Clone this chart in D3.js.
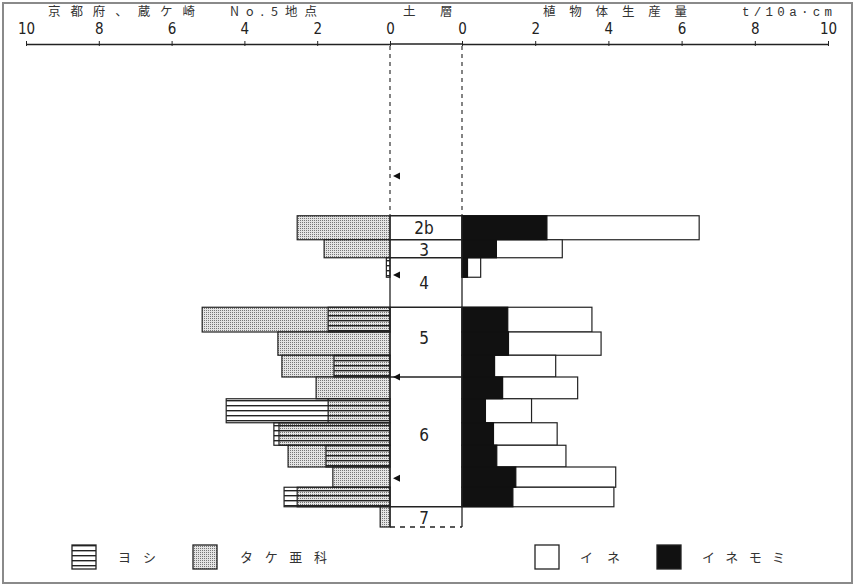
<!DOCTYPE html>
<html>
<head>
<meta charset="utf-8">
<script src="https://cdn.jsdelivr.net/npm/d3@7"></script>
<style>
  html, body { margin: 0; padding: 0; background: #fff; }
  svg { display: block; }
</style>
</head>
<body>
<svg id="chart" width="855" height="587"></svg>
<script>
// Depth slices (cm below the reference surface)
const rowTop    = [22.9, 26.1, 28.5, 35.1, 38.4, 41.5, 44.4, 47.3, 50.5, 53.5, 56.4, 59.1, 61.7];
const rowBottom = [26.1, 28.5, 31.1, 38.4, 41.5, 44.4, 47.3, 50.5, 53.5, 56.4, 59.1, 61.7, 64.4];

// Plant-body production, t/10a·cm
const yoshi   = [0, 0, 0.10, 1.70, 0, 1.54, 0, 4.50, 3.19, 1.76, 0, 2.91, 0];     // ヨシ
const takeAka = [2.55, 1.81, 0, 5.16, 3.08, 2.97, 2.03, 1.70, 3.05, 2.80, 1.57, 2.55, 0.27]; // タケ亜科
const ine     = [6.48, 2.74, 0.51, 3.55, 3.80, 2.56, 3.16, 1.90, 2.60, 2.84, 4.20, 4.15, 0]; // イネ
const ineMomi = [2.32, 0.94, 0.15, 1.25, 1.27, 0.89, 1.11, 0.64, 0.86, 0.95, 1.47, 1.39, 0]; // イネモミ

// Soil layers
const soilNames  = ["2b", "3", "4", "5", "6", "7"];
const soilTop    = [22.9, 26.1, 28.5, 35.1, 44.4, 61.7];
const soilBottom = [26.1, 28.5, 35.1, 44.4, 61.7, 64.4];
const soilLabelDepth = [24.5, 27.5, 31.9, 39.2, 52.1, 63.2];

// Marker depths (◀)
const markerDepth = [17.6, 30.8, 44.4, 57.9];

const tickValues = [0, 2, 4, 6, 8, 10];

const svg = d3.select("#chart");
const W = 855, H = 587;

svg.append("rect").attr("x", 0).attr("y", 0).attr("width", W).attr("height", H).attr("fill", "#fff");
// outer frame
svg.append("rect").attr("x", 3).attr("y", 3).attr("width", W - 6).attr("height", H - 7)
  .attr("fill", "none").attr("stroke", "#8a8a8a").attr("stroke-width", 2);

// Patterns
const defs = svg.append("defs");
const dots = defs.append("pattern").attr("id", "dots").attr("patternUnits", "userSpaceOnUse")
  .attr("width", 2).attr("height", 2);
dots.append("rect").attr("width", 2).attr("height", 2).attr("fill", "#e4e4e4");
dots.append("rect").attr("width", 1).attr("height", 1).attr("fill", "#777");

const lines = defs.append("pattern").attr("id", "hlines").attr("patternUnits", "userSpaceOnUse")
  .attr("width", 6).attr("height", 5);
lines.append("rect").attr("y", 0).attr("width", 6).attr("height", 1.4).attr("fill", "#222");

// Scales
const xL = d3.scaleLinear().domain([0, 10]).range([390, 26]);
const xR = d3.scaleLinear().domain([0, 10]).range([462, 828]);
const y  = d3.scaleLinear().domain([0, 64.4]).range([44, 527]);

const axisY = y(0);
const numFont = "'Liberation Sans Narrow','DejaVu Sans Condensed','Liberation Sans',sans-serif";

// Axes
function styleAxis(g) {
  g.select(".domain").attr("stroke", "#222").attr("stroke-width", 1.3);
  g.selectAll(".tick line").attr("stroke", "#222").attr("y2", -3).attr("y1", 2);
  g.selectAll(".tick text").attr("font-family", numFont).attr("font-size", 15)
    .attr("fill", "#222").attr("font-stretch", "condensed");
}
svg.append("g").attr("transform", `translate(0,${axisY})`)
  .call(d3.axisTop(xL).tickValues(tickValues).tickSize(3).tickSizeOuter(0).tickPadding(7))
  .call(styleAxis);
svg.append("g").attr("transform", `translate(0,${axisY})`)
  .call(d3.axisTop(xR).tickValues(tickValues).tickSize(3).tickSizeOuter(0).tickPadding(7))
  .call(styleAxis);
svg.append("line").attr("x1", xL(0)).attr("x2", xR(0)).attr("y1", axisY).attr("y2", axisY)
  .attr("stroke", "#222").attr("stroke-width", 1.3);

// Title row
const jp = "'Noto Sans CJK JP','Noto Sans CJK SC',sans-serif";
const titles = [
  { t: "京都府、蔵ケ崎", x: 48, len: 147, f: jp },
  { t: "No.5地点", x: 230, len: 87, f: jp },
  { t: "土", x: 403, len: 12, f: jp },
  { t: "層", x: 440, len: 12, f: jp },
  { t: "植物体生産量", x: 543, len: 144, f: jp },
  { t: "t/10a·cm", x: 742, len: 90, f: "'Liberation Mono','DejaVu Sans Mono',monospace" }
];
svg.append("g").selectAll("text").data(titles).join("text")
  .attr("x", d => d.x).attr("y", 16)
  .attr("font-family", d => d.f).attr("font-size", 12.5).attr("fill", "#333")
  .attr("textLength", d => d.len).attr("lengthAdjust", "spacing")
  .text(d => d.t);

// Dashed guides above the soil column
const colTop = y(soilTop[0]);
[xL(0), xR(0)].forEach(x => {
  svg.append("line").attr("x1", x).attr("x2", x).attr("y1", axisY + 2).attr("y2", colTop)
    .attr("stroke", "#333").attr("stroke-width", 1.2).attr("stroke-dasharray", "4,4");
});

const rows = rowTop.map((t, i) => ({
  top: t, bot: rowBottom[i], yoshi: yoshi[i], take: takeAka[i], ine: ine[i], momi: ineMomi[i]
}));

// Left: タケ亜科 (stipple) under ヨシ (lines), both from zero
const left = svg.append("g");
left.selectAll("rect.take").data(rows.filter(d => d.take > 0)).join("rect")
  .attr("x", d => xL(d.take)).attr("y", d => y(d.top))
  .attr("width", d => xL(0) - xL(d.take)).attr("height", d => y(d.bot) - y(d.top))
  .attr("fill", "url(#dots)").attr("stroke", "#222").attr("stroke-width", 1.2);
left.selectAll("rect.yoshi").data(rows.filter(d => d.yoshi > 0)).join("rect")
  .attr("x", d => xL(d.yoshi)).attr("y", d => y(d.top))
  .attr("width", d => xL(0) - xL(d.yoshi)).attr("height", d => y(d.bot) - y(d.top))
  .attr("fill", "url(#hlines)").attr("stroke", "#222").attr("stroke-width", 1.2);

// Right: イネ (white) under イネモミ (black)
const right = svg.append("g");
right.selectAll("rect.ine").data(rows.filter(d => d.ine > 0)).join("rect")
  .attr("x", xR(0)).attr("y", d => y(d.top))
  .attr("width", d => xR(d.ine) - xR(0)).attr("height", d => y(d.bot) - y(d.top))
  .attr("fill", "#fff").attr("stroke", "#222").attr("stroke-width", 1.2);
right.selectAll("rect.momi").data(rows.filter(d => d.momi > 0)).join("rect")
  .attr("x", xR(0)).attr("y", d => y(d.top))
  .attr("width", d => xR(d.momi) - xR(0)).attr("height", d => y(d.bot) - y(d.top))
  .attr("fill", "#111").attr("stroke", "#111").attr("stroke-width", 1.2);

// Soil column
const soil = svg.append("g");
const cx0 = xL(0), cx1 = xR(0);
soil.append("line").attr("x1", cx0).attr("x2", cx0).attr("y1", colTop).attr("y2", y(soilBottom[5]))
  .attr("stroke", "#222").attr("stroke-width", 1.3);
soil.append("line").attr("x1", cx1).attr("x2", cx1).attr("y1", colTop).attr("y2", y(soilBottom[5]))
  .attr("stroke", "#222").attr("stroke-width", 1.3);
soil.selectAll("line.b").data(soilTop).join("line")
  .attr("x1", cx0).attr("x2", cx1).attr("y1", d => y(d)).attr("y2", d => y(d))
  .attr("stroke", "#222").attr("stroke-width", 1.3);
soil.append("line").attr("x1", cx0).attr("x2", cx1)
  .attr("y1", y(soilBottom[5])).attr("y2", y(soilBottom[5]))
  .attr("stroke", "#222").attr("stroke-width", 1.3).attr("stroke-dasharray", "5,5");
soil.selectAll("text").data(soilNames).join("text")
  .attr("x", (cx0 + cx1) / 2 - 2).attr("y", (d, i) => y(soilLabelDepth[i]))
  .attr("dy", "0.35em").attr("text-anchor", "middle")
  .attr("font-family", numFont).attr("font-size", 17).attr("fill", "#222")
  .text(d => d);

// Markers
svg.append("g").selectAll("path").data(markerDepth).join("path")
  .attr("d", d => `M${cx0 + 3},${y(d)} L${cx0 + 10},${y(d) - 3.5} L${cx0 + 10},${y(d) + 3.5} Z`)
  .attr("fill", "#111");

// Legend
const legend = [
  { name: "ヨシ", fill: "url(#hlines)", bx: 72, tx: 118, len: 38 },
  { name: "タケ亜科", fill: "url(#dots)", bx: 193, tx: 240, len: 87 },
  { name: "イネ", fill: "#fff", bx: 535, tx: 580, len: 40 },
  { name: "イネモミ", fill: "#111", bx: 657, tx: 702, len: 83 }
];
const lg = svg.append("g");
lg.selectAll("rect").data(legend).join("rect")
  .attr("x", d => d.bx).attr("y", 545).attr("width", 24).attr("height", 24)
  .attr("fill", d => d.fill).attr("stroke", "#222").attr("stroke-width", 1.3);
lg.selectAll("text").data(legend).join("text")
  .attr("x", d => d.tx).attr("y", 562)
  .attr("font-family", jp).attr("font-size", 13).attr("fill", "#333")
  .attr("textLength", d => d.len).attr("lengthAdjust", "spacing")
  .text(d => d.name);
</script>
</body>
</html>
